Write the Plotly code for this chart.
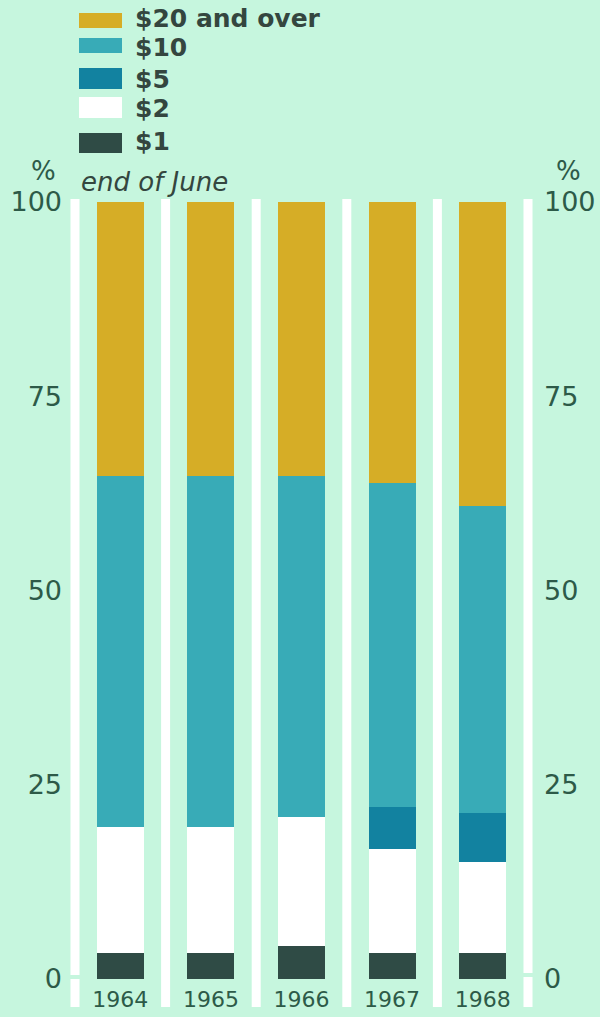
import plotly.graph_objects as go

years = ["1964", "1965", "1966", "1967", "1968"]
series_names = ["$1", "$2", "$5", "$10", "$20 and over"]
v_1 = [3.3, 3.4, 4.3, 3.4, 3.3]
v_2 = [16.3, 16.2, 16.6, 13.3, 11.7]
v_5 = [0.0, 0.0, 0.0, 5.5, 6.4]
v_10 = [45.2, 45.2, 43.8, 41.6, 39.5]
v_20 = [35.2, 35.2, 35.3, 36.2, 39.1]
y_ticks = [0, 25, 50, 75, 100]

series_values = [v_1, v_2, v_5, v_10, v_20]
colors = ["#2f4b45", "#ffffff", "#1282a0", "#38abb7", "#d6ad26"]

BG = "#c6f6de"
NUM_COLOR = "#2d5a48"
TXT_COLOR = "#34463f"
FONT = "DejaVu Sans"

W, H = 600, 1017
PL, PR, PT, PB = 75, 528, 202, 979


def fx(px):
    return (px - PL) / (PR - PL)


def fy(py):
    return (PB - py) / (PB - PT)


fig = go.Figure()
for name, vals, col in zip(series_names, series_values, colors):
    fig.add_trace(go.Bar(x=years, y=vals, name=name, marker_color=col,
                         marker_line_width=0, width=0.52, showlegend=False))
fig.add_trace(go.Scatter(x=years, y=[None] * len(years), yaxis="y2",
                         showlegend=False, hoverinfo="skip"))

shapes = []
# white separators between bars
for k in range(len(years) + 1):
    xp = k / len(years)
    shapes.append(dict(type="line", xref="paper", yref="paper",
                       x0=xp, x1=xp, y0=fy(199), y1=fy(1007),
                       line=dict(color="white", width=9), layer="below"))
# small gaps in the outer separators at the zero line
for xp, (g0, g1) in ((0.0, (975, 979)), (1.0, (973, 977))):
    shapes.append(dict(type="line", xref="paper", yref="paper",
                       x0=xp, x1=xp, y0=fy(g0), y1=fy(g1),
                       line=dict(color=BG, width=10), layer="below"))

# legend swatches (top: $20 ... bottom: $1)
legend_rows = [  # (top px, bottom px, text center px)
    (13, 28, 18),
    (38, 53, 47),
    (68, 89, 79),
    (97, 118, 108),
    (133, 153, 142),
]
annotations = []
for (top, bot, tc), name, col in zip(legend_rows, series_names[::-1], colors[::-1]):
    shapes.append(dict(type="rect", xref="paper", yref="paper",
                       x0=fx(79), x1=fx(122), y0=fy(bot), y1=fy(top),
                       fillcolor=col, line=dict(width=0)))
    annotations.append(dict(xref="paper", yref="paper", x=fx(133), y=fy(tc),
                            xanchor="left", yanchor="middle", showarrow=False,
                            text="<b>" + name + "</b>",
                            font=dict(family=FONT, size=25, color=TXT_COLOR)))

annotations.append(dict(xref="paper", yref="paper", x=fx(79), y=fy(182),
                        xanchor="left", yanchor="middle", showarrow=False,
                        text="<i>end of June</i>",
                        font=dict(family=FONT, size=26, color=TXT_COLOR)))
for xc in (43, 568):
    annotations.append(dict(xref="paper", yref="paper", x=fx(xc), y=fy(171),
                            xanchor="center", yanchor="middle", showarrow=False,
                            text="%", font=dict(family=FONT, size=26, color=NUM_COLOR)))

fig.update_layout(
    width=W, height=H,
    margin=dict(l=PL, r=W - PR, t=PT, b=H - PB, pad=0, autoexpand=False),
    paper_bgcolor=BG, plot_bgcolor=BG,
    barmode="stack", bargap=0.48,
    shapes=shapes, annotations=annotations,
    xaxis=dict(type="category", range=[-0.5, len(years) - 0.5], automargin=False,
               showgrid=False, zeroline=False, showline=False, ticks="",
               tickfont=dict(family=FONT, size=22, color=NUM_COLOR),
               ticklabelstandoff=5),
    yaxis=dict(range=[0, 100], tickvals=y_ticks, ticktext=[str(t) for t in y_ticks],
               automargin=False,
               showgrid=False, zeroline=False, showline=False, ticks="",
               tickfont=dict(family=FONT, size=27, color=NUM_COLOR),
               ticklabelstandoff=12),
    yaxis2=dict(range=[0, 100], tickvals=y_ticks, ticktext=[str(t) for t in y_ticks],
                overlaying="y", side="right", automargin=False,
                showgrid=False, zeroline=False, showline=False, ticks="",
                tickfont=dict(family=FONT, size=27, color=NUM_COLOR),
                ticklabelstandoff=15),
    showlegend=False,
)

fig.write_html("out.html", config={"displayModeBar": False},
               post_script="document.body.style.margin='0';"
                           "document.body.style.background='" + BG + "';")
